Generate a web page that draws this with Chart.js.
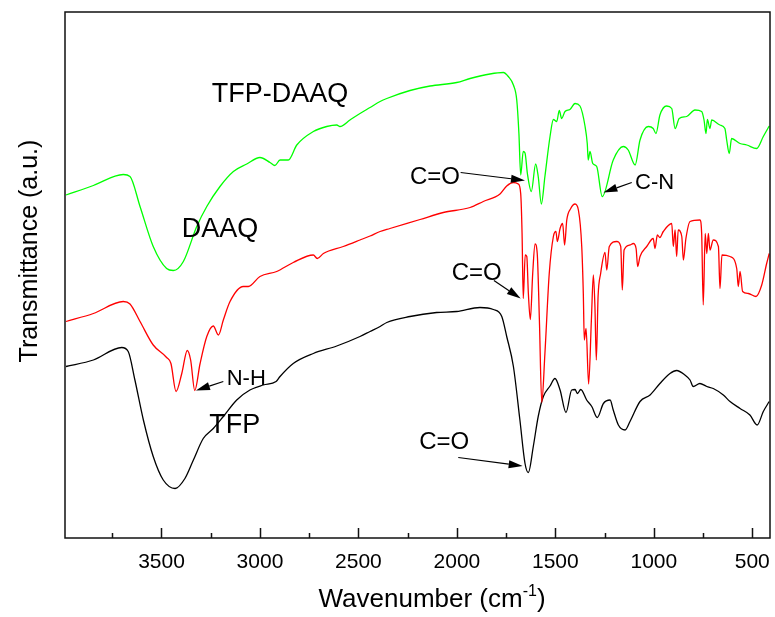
<!DOCTYPE html>
<html>
<head>
<meta charset="utf-8">
<script src="https://cdn.jsdelivr.net/npm/chart.js@4.4.0/dist/chart.umd.min.js"></script>
<style>
  body { margin: 0; background: #fff; }
</style>
</head>
<body>
<canvas id="ftir" width="775" height="617"></canvas>
<script>
// wavenumber (cm-1) and transmittance (a.u.)
const tfpDaaqWn = [3985,3846,3694,3660,3609,3542,3474,3440,3389,3321,
  3270,3203,3135,3067,3000,2949,2924,2898,2856,2813,
  2729,2661,2610,2594,2543,2492,2441,2390,2356,2238,
  2136,2001,1933,1832,1764,1739,1713,1696,1685,1676,
  1663,1654,1642,1622,1600,1587,1571,1553,1527,1510,
  1493,1480,1468,1451,1426,1400,1375,1349,1338,1333,
  1324,1310,1290,1262,1206,1155,1130,1095,1070,1028,
  1003,989,969,935,909,892,871,833,791,757,
  745,735,728,715,706,664,639,630,617,605,
  562,528,478,444,414];
const tfpDaaqT = [68.6,70.5,72.7,72.3,66.3,58.3,53.9,53.5,55.3,62.3,
  66.3,70.3,73.3,74.8,76.1,75.1,74.5,75.6,75.6,78.6,
  81.3,82.3,82.6,82.3,83.6,84.9,86.1,87.3,87.9,89.5,
  90.4,91.1,91.9,92.8,93.1,92.3,90.6,87.6,80.9,72.6,
  77.3,77.0,72.9,69.3,74.8,72.3,66.8,72.3,80.3,83.7,
  83.3,85.5,83.9,85.3,85.7,86.9,86.4,82.3,78.9,75.6,
  77.3,74.9,74.3,68.3,75.6,78.3,77.6,74.6,79.6,82.3,
  81.9,80.9,84.6,86.4,85.9,81.9,83.9,84.3,85.6,85.3,
  83.6,80.9,83.7,81.9,83.6,82.6,81.9,79.6,76.9,79.9,
  78.9,78.6,77.9,80.3,82.4];

const daaqWn = [3985,3846,3694,3660,3609,3542,3474,3452,3426,3397,
  3369,3352,3331,3304,3270,3237,3211,3186,3152,3085,
  3059,3000,2915,2831,2729,2709,2678,2577,2492,2441,
  2390,2340,2187,2069,1933,1866,1781,1747,1713,1688,
  1676,1669,1663,1653,1645,1637,1627,1615,1603,1592,
  1581,1569,1553,1531,1510,1497,1490,1476,1463,1453,
  1442,1422,1400,1383,1366,1358,1353,1344,1331,1317,
  1307,1299,1292,1283,1270,1248,1239,1226,1189,1168,
  1160,1151,1121,1104,1090,1082,1070,1036,1003,994,
  982,969,952,909,901,892,884,876,858,850,
  837,816,766,757,749,739,731,723,715,698,
  672,664,654,613,579,571,562,549,520,481,
  452,427,414];
const daaqT = [43.3,44.9,47.3,46.8,43.3,38.6,36.1,34.9,29.3,32.9,
  37.5,35.6,29.5,34.9,40.3,42.4,40.6,43.6,47.3,50.3,
  50.3,52.3,53.3,55.1,56.6,55.9,56.9,58.3,59.6,60.4,
  61.3,61.9,63.7,65.1,66.1,67.3,68.8,70.4,71.1,70.8,
  68.9,60.9,47.9,56.6,56.3,48.9,43.7,52.9,58.8,56.9,
  43.6,27.1,36.9,52.9,60.3,61.3,59.3,61.9,62.9,58.6,
  63.6,65.9,66.8,65.6,58.3,48.9,39.6,41.9,30.8,43.6,
  52.6,46.3,35.6,48.3,52.9,57.1,53.6,58.3,59.3,58.3,
  49.6,57.6,58.6,58.9,57.9,54.3,56.3,58.3,59.9,57.9,
  60.6,60.1,61.3,62.9,58.3,61.6,56.3,61.6,60.3,55.6,
  59.9,63.3,63.6,60.9,46.6,60.9,56.9,60.9,57.6,59.6,
  58.3,49.9,56.6,56.3,53.9,50.3,53.3,49.3,48.9,48.3,
  50.6,54.9,56.9];

const tfpWn = [3985,3846,3702,3669,3635,3592,3542,3491,3431,3381,
  3338,3288,3237,3186,3118,3051,2983,2918,2898,2831,
  2729,2610,2492,2441,2390,2356,2238,2103,2001,1883,
  1815,1772,1747,1713,1680,1654,1637,1612,1587,1561,
  1527,1502,1476,1446,1417,1400,1388,1371,1341,1315,
  1287,1256,1222,1206,1180,1146,1121,1070,1019,969,
  918,884,842,816,800,766,731,698,647,613,
  562,512,475,444,414];
const tfpT = [34.3,35.6,38.1,37.3,31.6,23.6,16.3,11.6,9.9,11.9,
  15.6,19.9,21.9,24.3,27.6,29.6,30.6,31.3,32.3,34.9,
  36.9,38.4,40.3,41.3,42.3,43.1,44.3,45.1,45.3,46.1,
  45.7,44.3,40.3,34.3,23.6,14.9,13.1,18.3,24.3,28.3,
  30.4,31.9,29.6,25.1,29.6,29.7,28.9,29.7,27.6,26.3,
  24.1,26.9,27.6,25.6,22.6,21.6,23.3,27.3,28.6,30.9,
  32.9,33.5,32.6,31.6,30.3,30.9,30.3,29.9,28.6,27.3,
  25.9,24.6,22.6,25.3,27.3];

const xTicks = [3500, 3000, 2500, 2000, 1500, 1000, 500];
const xMinorTicks = [3750, 3250, 2750, 2250, 1750, 1250, 750];

// text labels and arrows, placed in data coordinates
const seriesLabels = [
  { text: 'TFP-DAAQ', wn: 3245, t: 87.3 },
  { text: 'DAAQ', wn: 3397, t: 60.2 },
  { text: 'TFP', wn: 3257, t: 21.1 }
];
const bandLabels = [
  { text: 'C=O', wn: 2238, t: 70.9, size: 24, from: [1981, 73.1], to: [1654, 71.5] },
  { text: 'C=O', wn: 2026, t: 51.6, size: 24, from: [1812, 51.5], to: [1676, 47.9] },
  { text: 'C=O', wn: 2191, t: 17.9, size: 24, from: [1993, 16.1], to: [1666, 14.4] },
  { text: 'N-H', wn: 3169, t: 30.7, size: 22, from: [3186, 31.3], to: [3325, 29.5] },
  { text: 'C-N', wn: 1095, t: 69.9, size: 22, from: [1112, 71.1], to: [1256, 69.1] }
];

const FONT = '"Liberation Sans", Arial, sans-serif';

function toPoints(xs, ys) {
  return xs.map((x, i) => ({ x: x, y: ys[i] }));
}

const decorations = {
  id: 'decorations',
  afterDatasetsDraw(chart) {
    const { ctx, chartArea: a } = chart;
    const xs = chart.scales.x, ys = chart.scales.y;
    ctx.save();

    // frame
    ctx.strokeStyle = '#111';
    ctx.lineWidth = 1.5;
    ctx.strokeRect(a.left, a.top, a.right - a.left, a.bottom - a.top);

    // inward ticks on the bottom axis
    ctx.beginPath();
    xTicks.forEach(v => {
      const px = Math.round(xs.getPixelForValue(v)) + 0.5;
      ctx.moveTo(px, a.bottom);
      ctx.lineTo(px, a.bottom - 10);
    });
    xMinorTicks.forEach(v => {
      const px = Math.round(xs.getPixelForValue(v)) + 0.5;
      ctx.moveTo(px, a.bottom);
      ctx.lineTo(px, a.bottom - 5);
    });
    ctx.stroke();

    ctx.fillStyle = '#000';
    ctx.textBaseline = 'alphabetic';
    ctx.textAlign = 'left';

    ctx.font = '27px ' + FONT;
    seriesLabels.forEach(l => {
      ctx.fillText(l.text, xs.getPixelForValue(l.wn), ys.getPixelForValue(l.t));
    });

    bandLabels.forEach(l => {
      ctx.font = l.size + 'px ' + FONT;
      ctx.fillText(l.text, xs.getPixelForValue(l.wn), ys.getPixelForValue(l.t));
      const x1 = xs.getPixelForValue(l.from[0]), y1 = ys.getPixelForValue(l.from[1]);
      const x2 = xs.getPixelForValue(l.to[0]), y2 = ys.getPixelForValue(l.to[1]);
      const ang = Math.atan2(y2 - y1, x2 - x1);
      const len = 14, hw = 4;
      ctx.strokeStyle = '#000';
      ctx.lineWidth = 1.2;
      ctx.beginPath();
      ctx.moveTo(x1, y1);
      ctx.lineTo(x2 - len * Math.cos(ang), y2 - len * Math.sin(ang));
      ctx.stroke();
      ctx.beginPath();
      ctx.moveTo(x2, y2);
      ctx.lineTo(x2 - len * Math.cos(ang) + hw * Math.sin(ang), y2 - len * Math.sin(ang) - hw * Math.cos(ang));
      ctx.lineTo(x2 - len * Math.cos(ang) - hw * Math.sin(ang), y2 - len * Math.sin(ang) + hw * Math.cos(ang));
      ctx.closePath();
      ctx.fill();
    });

    // x axis title with superscript
    const main = 'Wavenumber (cm', sup = '-1', tail = ')';
    ctx.font = '26px ' + FONT;
    const wMain = ctx.measureText(main).width, wTail = ctx.measureText(tail).width;
    ctx.font = '16px ' + FONT;
    const wSup = ctx.measureText(sup).width;
    let tx = 432 - (wMain + wSup + wTail) / 2;
    const base = 607;
    ctx.font = '26px ' + FONT;
    ctx.fillText(main, tx, base);
    tx += wMain;
    ctx.font = '16px ' + FONT;
    ctx.fillText(sup, tx, base - 11);
    tx += wSup;
    ctx.font = '26px ' + FONT;
    ctx.fillText(tail, tx, base);

    // y axis title
    ctx.translate(30, 251);
    ctx.rotate(-Math.PI / 2);
    ctx.textAlign = 'center';
    ctx.textBaseline = 'middle';
    ctx.font = '25px ' + FONT;
    ctx.fillText('Transmittance (a.u.)', 0, 0);

    ctx.restore();
  }
};

new Chart(document.getElementById('ftir'), {
  type: 'scatter',
  data: {
    datasets: [
      { label: 'TFP-DAAQ', data: toPoints(tfpDaaqWn, tfpDaaqT), borderColor: '#00ff00' },
      { label: 'DAAQ', data: toPoints(daaqWn, daaqT), borderColor: '#ff0000' },
      { label: 'TFP', data: toPoints(tfpWn, tfpT), borderColor: '#000000' }
    ].map(d => Object.assign(d, {
      showLine: true,
      pointRadius: 0,
      borderWidth: 1.3,
      cubicInterpolationMode: 'monotone',
      fill: false
    }))
  },
  options: {
    responsive: false,
    animation: false,
    layout: { padding: { left: 65, right: 5, top: 12, bottom: 0 } },
    plugins: {
      legend: { display: false },
      tooltip: { enabled: false }
    },
    scales: {
      x: {
        type: 'linear',
        min: 410,
        max: 3990,
        reverse: true,
        afterBuildTicks: scale => { scale.ticks = xTicks.map(v => ({ value: v })); },
        afterFit: scale => {
          scale.height = 79;
          scale.paddingLeft = 0;
          scale.paddingRight = 0;
        },
        grid: { display: false, drawTicks: false },
        border: { display: false },
        ticks: {
          autoSkip: false,
          maxRotation: 0,
          padding: 12,
          color: '#000',
          font: { family: FONT, size: 21 },
          callback: v => String(v)
        }
      },
      y: {
        display: false,
        min: 0,
        max: 105.2
      }
    }
  },
  plugins: [decorations]
});
</script>
</body>
</html>
